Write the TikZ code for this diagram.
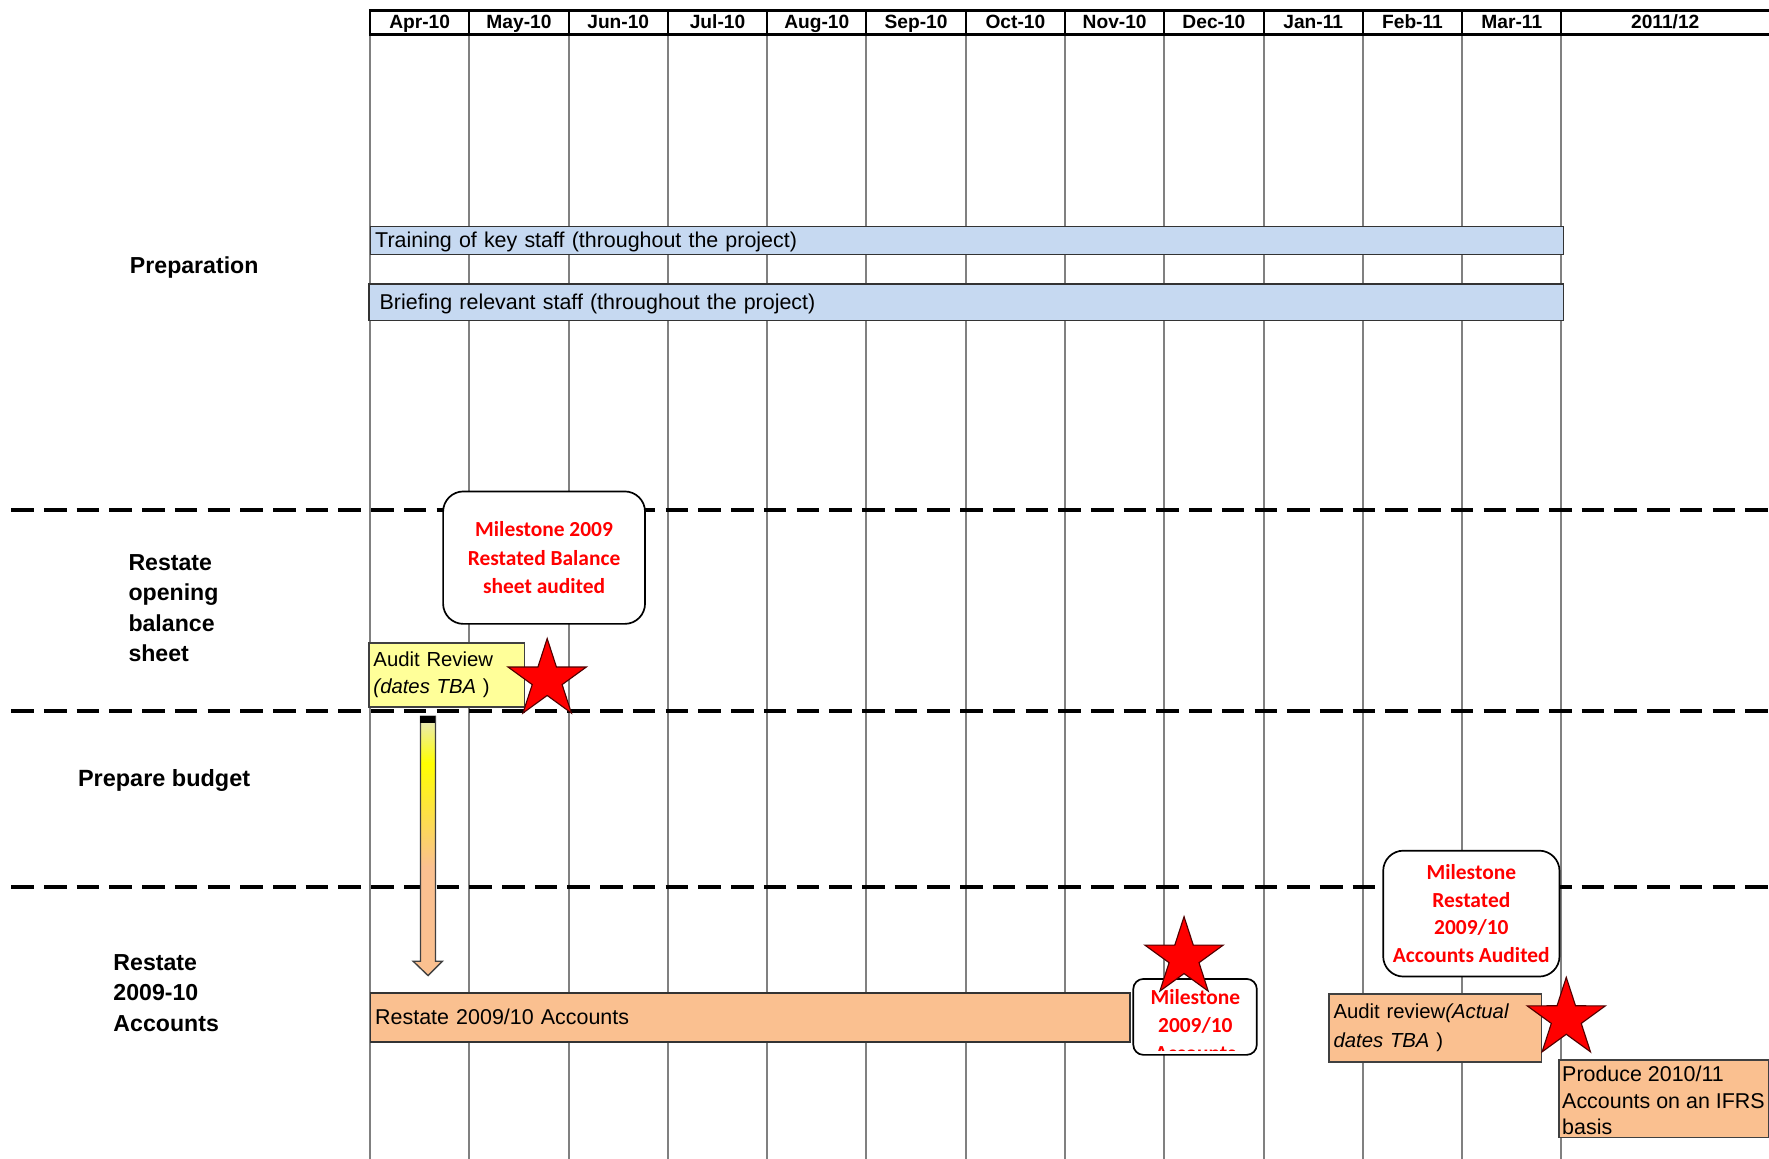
\documentclass[tikz,border=0pt]{standalone}
\usepackage{fontspec}
\setmainfont{Liberation Sans}
\newfontfamily\calibfont{Carlito}
\usetikzlibrary{shapes.geometric}
\definecolor{gridgray}{HTML}{808080}
\definecolor{barblue}{HTML}{C6D9F1}
\definecolor{peach}{HTML}{FAC090}
\definecolor{paleyel}{HTML}{FFFF99}
\definecolor{arrowtop}{HTML}{E8E8C8}
\definecolor{msred}{HTML}{FF0000}
\definecolor{edgegray}{HTML}{404040}
\definecolor{staredge}{HTML}{500000}
\pgfdeclareverticalshading{arrowshade}{100bp}{color(0bp)=(peach); color(46bp)=(peach); color(66bp)=(yellow); color(75bp)=(arrowtop); color(100bp)=(arrowtop)}
\begin{document}
\begin{tikzpicture}[x=1pt,y=-1pt,
  gridline/.style={draw=gridgray, line width=1.8pt},
  hdrline/.style={draw=black, line width=2.4pt},
  hdrsep/.style={draw=black, line width=1.8pt},
  hdr/.style={font=\fontsize{17}{20}\selectfont\bfseries, anchor=base, inner sep=0pt},
  sectlbl/.style={font=\fontsize{20.5}{27}\selectfont\bfseries, align=left, anchor=base west, inner sep=0pt},
  sepline/.style={draw=black, line width=3.5pt, dash pattern=on 20pt off 9pt},
  bar/.style={draw=black!80, line width=1.2pt, anchor=north west, inner xsep=4pt, inner ysep=0pt, font=\fontsize{19}{23}\selectfont, text height=17pt, text depth=4pt, align=left},
  milestone/.style={draw=black, fill=white, line width=1.5pt, rounded corners=18pt, align=center, font=\calibfont\fontsize{19}{25}\selectfont\bfseries, text=msred, inner sep=0pt},
  taskbox/.style={draw=edgegray, line width=1.3pt, anchor=north west, align=left, inner xsep=4pt, inner ysep=0pt},
  starmark/.style={star, star points=5, star point ratio=2.618, minimum size=73pt, inner sep=0pt, fill=red, draw=staredge, line width=1pt},
  plaintext/.style={inner sep=0pt, align=left, anchor=base west},
]
\fill[white] (0,0) rectangle (1568,1027);
\useasboundingbox (0,0) rectangle (1568,1027);

% grid
\foreach \i in {0,...,12} {
  \draw[gridline] ({328+88*\i},30.5) -- ({328+88*\i},1027);
  \draw[hdrsep] ({328+88*\i},9) -- ({328+88*\i},30.5);
}
\draw[hdrline] (327,9) -- (1568,9);
\draw[hdrline] (327,30.5) -- (1568,30.5);
\foreach \m [count=\i from 0] in {Apr-10,May-10,Jun-10,Jul-10,Aug-10,Sep-10,Oct-10,Nov-10,Dec-10,Jan-11,Feb-11,Mar-11} {
  \node[hdr] (h\i) at ({372+88*\i},25) {\m};
}
\node[hdr] (h12) at (1476,25) {2011/12};

% preparation bars
\node[bar, fill=barblue, minimum height=25pt, text width=1049pt] (train) at (328,200) {Training of key staff (throughout the project)};
\node[bar, fill=barblue, minimum height=32.5pt, inner xsep=9.5pt, text width=1039.6pt] (brief) at (326.4,251) {Briefing relevant staff (throughout the project)};

% section separators
\draw[sepline] (10,452) -- (1568,452);
\draw[sepline] (10,630) -- (1568,630);
\draw[sepline] (10,786) -- (1568,786);

% section labels (base anchor = last line)
\node[sectlbl] (lprep) at (115,242) {Preparation};
\node[sectlbl] (lopen) at (113.7,586.3) {Restate\\opening\\balance\\sheet};
\node[sectlbl, font=\fontsize{20.8}{27}\selectfont\bfseries] (lbud) at (69,697) {Prepare budget};
\node[sectlbl] (lacc) at (100.4,914) {Restate\\2009-10\\Accounts};

% opening balance sheet
\node[milestone, minimum width=179pt, minimum height=117.4pt] (ms1) at (482.25,494.3) {Milestone 2009\\Restated Balance\\sheet audited};
\node[taskbox, fill=paleyel, minimum width=137.9pt, minimum height=56.6pt, text width=129.9pt, font=\fontsize{18}{24}\selectfont] (ar1) at (326.4,569.4) {Audit Review\\\textit{(dates TBA} )};
\node[starmark] (st1) at (485,602.5) {};

% block arrow from audit review down to restate accounts
\coordinate (arTop) at (379.35,635);
\shade[shading=arrowshade, draw=edgegray, line width=1.2pt]
  (372.7,635) -- (386,635) -- (386,852) -- (392.2,852) -- (379.4,864.7) -- (366.2,852) -- (372.7,852) -- cycle;
\fill[black] (372.7,635) rectangle (386,640.5);

% restate accounts
\node[bar, fill=peach, minimum height=43.5pt, text width=665pt] (racc) at (328,879.5) {Restate 2009/10 Accounts};
\node[draw=black, fill=white, line width=1.5pt, rounded corners=9pt, minimum width=109.5pt, minimum height=67.3pt, inner sep=0pt] (ms2) at (1059.25,901.35) {};
\node[starmark] (st2) at (1049.5,849) {};
\begin{scope}
  \clip (1004.5,867.7) rectangle (1114,931);
  \node[inner sep=0pt, align=center, anchor=base, font=\calibfont\fontsize{19}{25}\selectfont\bfseries, text=msred] (ms2text) at (1059.5,940) {Milestone\\2009/10\\Accounts};
\end{scope}

\node[milestone, minimum width=156.3pt, minimum height=111.6pt, font=\calibfont\fontsize{19}{24.7}\selectfont\bfseries] (ms3) at (1304.15,809.8) {Milestone\\Restated\\2009/10\\Accounts Audited};
\node[taskbox, fill=peach, minimum width=188.4pt, minimum height=60pt, text width=180.4pt, font=\fontsize{18}{25.4}\selectfont] (ar2) at (1177.4,880.5) {Audit review\textit{(Actual}\\\textit{dates TBA} )};
\node[taskbox, fill=peach, minimum width=186pt, minimum height=68.5pt] (prod) at (1381,939) {};
\node[plaintext, font=\fontsize{19}{23.5}\selectfont] (prodtext) at (1384.5,1005.7) {Produce 2010/11\\Accounts on an IFRS\\basis};
\node[starmark] (st3) at (1388.3,902.8) {};
\end{tikzpicture}
\end{document}
